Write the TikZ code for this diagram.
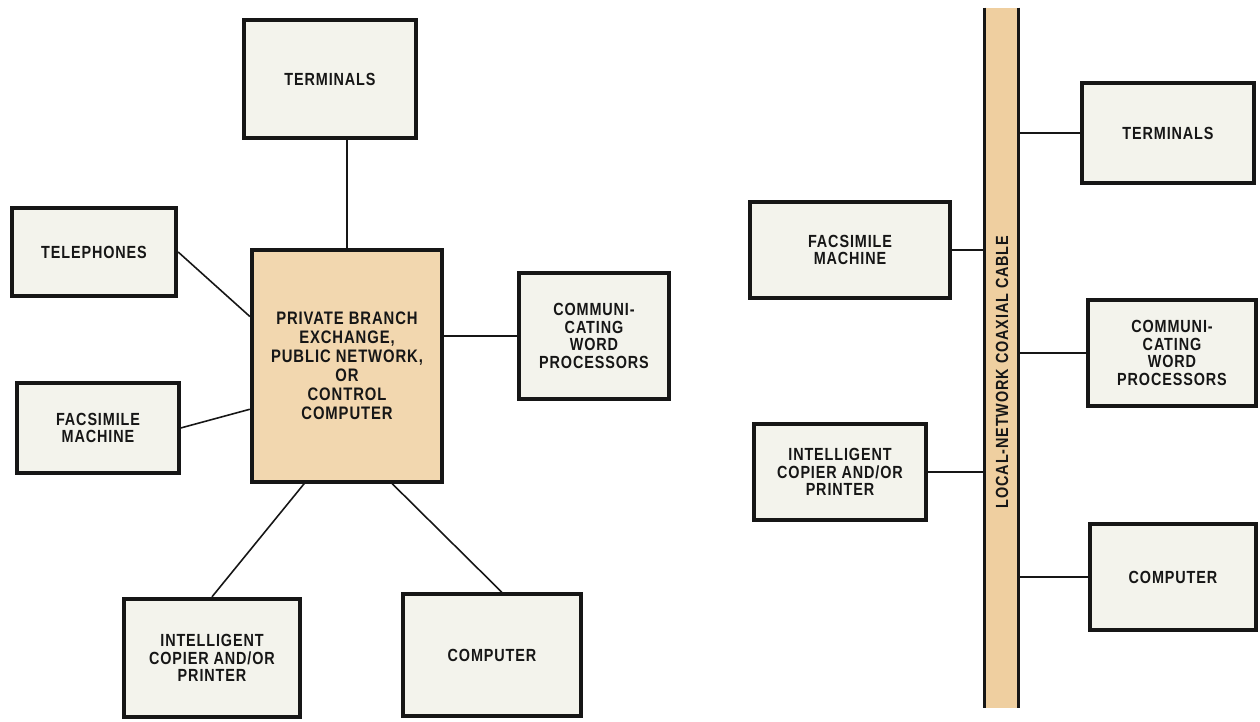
\documentclass[tikz,border=0pt]{standalone}
\usepackage{fontspec}
\setmainfont{Liberation Sans}[FakeStretch=0.82,LetterSpace=5]
\usetikzlibrary{positioning}
\definecolor{ink}{HTML}{161616}
\definecolor{paper}{HTML}{F3F3EC}
\definecolor{buff}{HTML}{F2D7AF}
\definecolor{cablebuff}{HTML}{EFCFA0}
\tikzset{
  unitbox/.style={draw=ink,line width=2.2pt,fill=paper,align=center,font=\fontsize{10}{10}\selectfont\bfseries,inner sep=3pt,text=ink},
  hubbox/.style={unitbox,fill=buff,font=\fontsize{10.3}{10.8}\selectfont\bfseries},
  link/.style={draw=ink,line width=0.9pt},
  cableedge/.style={draw=ink,line width=1.6pt}
}
\begin{document}
\begin{tikzpicture}[x=0.02cm,y=-0.02cm]
  \useasboundingbox[fill=white] (0,0) rectangle (1260,722);

  % star layout
  \node[hubbox,minimum width=3.81cm,minimum height=4.63cm] (hub) at (347,366) {PRIVATE BRANCH\\EXCHANGE,\\PUBLIC NETWORK,\\OR\\CONTROL\\COMPUTER};
  \node[unitbox,minimum width=3.43cm,minimum height=2.37cm] (term1) at (330,79) {TERMINALS};
  \node[unitbox,minimum width=3.29cm,minimum height=1.77cm] (tel) at (94,252) {TELEPHONES};
  \node[unitbox,minimum width=3.23cm,minimum height=1.81cm] (fax1) at (98,428) {FACSIMILE\\MACHINE};
  \node[unitbox,minimum width=3.01cm,minimum height=2.53cm] (cwp1) at (594,336) {COMMUNI-\\CATING\\WORD\\PROCESSORS};
  \node[unitbox,minimum width=3.51cm,minimum height=2.37cm] (copier1) at (212,658) {INTELLIGENT\\COPIER AND/OR\\PRINTER};
  \node[unitbox,minimum width=3.55cm,minimum height=2.43cm] (comp1) at (492,655) {COMPUTER};

  \draw[link] (hub.north) -- (hub.north |- term1.south);
  \draw[link] (tel.east) -- (hub.153);
  \draw[link] (fax1.east) -- (hub.204);
  \draw[link] (hub.east |- cwp1.west) -- (cwp1.west);
  \draw[link] (hub.250) -- (copier1.north);
  \draw[link] (hub.291) -- (comp1.81);

  % bus layout
  \node[fill=cablebuff,minimum width=0.66cm,minimum height=14cm,inner sep=0pt] (cable) at (1001.5,358) {};
  \draw[cableedge] (cable.north west) -- (cable.south west);
  \draw[cableedge] (cable.north east) -- (cable.south east);
  \node[rotate=90,text=ink,font=\fontsize{10}{10}\selectfont\bfseries] (cablelabel) at (1002,372) {LOCAL-NETWORK COAXIAL CABLE};

  \node[unitbox,minimum width=3.43cm,minimum height=2.01cm] (term2) at (1168,133) {TERMINALS};
  \node[unitbox,minimum width=3.99cm,minimum height=1.93cm] (fax2) at (850,250) {FACSIMILE\\MACHINE};
  \node[unitbox,minimum width=3.37cm,minimum height=2.13cm] (cwp2) at (1172,353) {COMMUNI-\\CATING\\WORD\\PROCESSORS};
  \node[unitbox,minimum width=3.43cm,minimum height=1.91cm] (copier2) at (840,472) {INTELLIGENT\\COPIER AND/OR\\PRINTER};
  \node[unitbox,minimum width=3.33cm,minimum height=2.13cm] (comp2) at (1173,577) {COMPUTER};

  \draw[link] (term2.west -| cable.east) -- (term2.west);
  \draw[link] (fax2.east) -- (fax2.east -| cable.west);
  \draw[link] (cwp2.west -| cable.east) -- (cwp2.west);
  \draw[link] (copier2.east) -- (copier2.east -| cable.west);
  \draw[link] (comp2.west -| cable.east) -- (comp2.west);
\end{tikzpicture}
\end{document}
